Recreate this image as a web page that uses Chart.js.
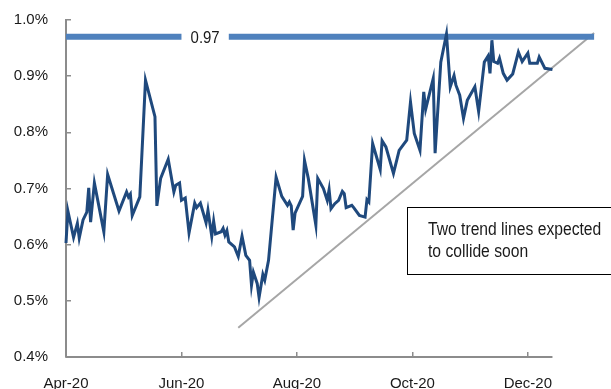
<!DOCTYPE html>
<html lang="en">
<head>
    <meta charset="UTF-8">
    <title>Yield with trend lines</title>
    <script src="https://cdn.jsdelivr.net/npm/chart.js"></script>
    <style>
        body {
            margin: 0;
            padding: 0;
            background: #ffffff;
        }
        .chart-box {
            width: 611px;
            height: 389px;
        }
    </style>
</head>
<body>
    <div class="chart-box">
        <canvas id="yieldChart"></canvas>
    </div>

    <script>
        // days counted from 1 Apr 2020, values in %
        const days = [0, 1, 4, 6, 7, 9, 11, 12, 13, 15, 20, 22, 28, 32, 33, 34, 35, 39, 42, 47,
            48, 50, 54, 57, 58, 60, 61, 63, 65, 68, 69, 71, 74, 75, 77, 78, 79, 82, 83, 84,
            85, 86, 89, 91, 93, 95, 97, 98, 99, 101, 102, 104, 105, 107, 111, 114, 117, 118, 119, 120,
            121, 125, 126, 128, 132, 133, 136, 138, 139, 140, 142, 144, 146, 147, 148, 151, 152, 155, 158, 159,
            160, 162, 166, 167, 169, 173, 176, 180, 182, 184, 187, 189, 190, 194, 195, 198, 201, 203, 205, 206,
            208, 210, 212, 216, 218, 221, 223, 224, 225, 226, 228, 229, 231, 233, 236, 239, 241, 244, 245, 249,
            250, 253, 257];
        const rates = [0.603, 0.660, 0.613, 0.638, 0.612, 0.644, 0.658, 0.701, 0.640, 0.710, 0.623, 0.725, 0.660, 0.694, 0.685, 0.690, 0.652, 0.685, 0.893, 0.828,
            0.669, 0.718, 0.752, 0.694, 0.706, 0.710, 0.679, 0.683, 0.621, 0.674, 0.666, 0.674, 0.639, 0.661, 0.615, 0.642, 0.619, 0.623, 0.629, 0.617,
            0.625, 0.605, 0.596, 0.579, 0.615, 0.581, 0.572, 0.528, 0.551, 0.531, 0.506, 0.547, 0.537, 0.572, 0.720, 0.686, 0.670, 0.676, 0.669, 0.626,
            0.656, 0.686, 0.750, 0.718, 0.635, 0.718, 0.700, 0.679, 0.698, 0.664, 0.673, 0.679, 0.695, 0.691, 0.666, 0.670, 0.666, 0.652, 0.649, 0.680,
            0.676, 0.780, 0.734, 0.785, 0.774, 0.727, 0.768, 0.786, 0.854, 0.798, 0.768, 0.872, 0.841, 0.896, 0.763, 0.925, 0.975, 0.881, 0.901, 0.884,
            0.866, 0.825, 0.857, 0.881, 0.837, 0.925, 0.936, 0.905, 0.964, 0.926, 0.923, 0.932, 0.905, 0.893, 0.904, 0.943, 0.926, 0.941, 0.923, 0.923,
            0.934, 0.914, 0.912];

        // resistance line at 0.97, broken where its label sits
        const resistLevel = 0.97;
        const resistDays = [0, 61, null, 86, 279];
        const resistLabelDay = 73.5;

        // rising support line
        const supportDays = [91, 279];
        const supportValues = [0.452, 0.977];

        const axisEndDay = 257;
        const xTickDays = [0, 61, 122, 183, 244];
        const xTickLabels = ['Apr-20', 'Jun-20', 'Aug-20', 'Oct-20', 'Dec-20'];
        const yTicks = [0.4, 0.5, 0.6, 0.7, 0.8, 0.9, 1.0];

        const noteLines = ['Two trend lines expected', 'to collide soon'];

        const fontFamily = "'Liberation Sans', Arial, sans-serif";
        const axisGray = '#8c8c8c';

        const mainPoints = days.map((d, i) => ({ x: d, y: rates[i] }));
        const resistPoints = resistDays.map(d => d === null ? { x: 73, y: null } : { x: d, y: resistLevel });
        const supportPoints = supportDays.map((d, i) => ({ x: d, y: supportValues[i] }));
        const axisPoints = [{ x: 0, y: yTicks[0] }, { x: axisEndDay, y: yTicks[0] }];

        // narrow text, like the squeezed original
        function squeezedText(ctx, text, x, y, sx) {
            ctx.save();
            ctx.translate(x, y);
            ctx.scale(sx, 1);
            ctx.fillText(text, 0, 0);
            ctx.restore();
        }

        const labelsPlugin = {
            id: 'labels',
            afterDatasetsDraw(chart) {
                const ctx = chart.ctx;
                const xs = chart.scales.x;
                const ys = chart.scales.y;
                ctx.save();
                ctx.fillStyle = '#1a1a1a';
                ctx.font = '17px ' + fontFamily;
                ctx.textAlign = 'center';
                ctx.textBaseline = 'middle';
                squeezedText(ctx, resistLevel.toFixed(2), xs.getPixelForValue(resistLabelDay), ys.getPixelForValue(resistLevel) + 1, 0.88);

                // note box
                ctx.fillStyle = '#ffffff';
                ctx.fillRect(407.5, 207.5, 210, 67);
                ctx.strokeStyle = '#000000';
                ctx.lineWidth = 1;
                ctx.strokeRect(407.5, 207.5, 210, 67);
                ctx.fillStyle = '#1a1a1a';
                ctx.font = '18px ' + fontFamily;
                ctx.textAlign = 'left';
                ctx.textBaseline = 'alphabetic';
                noteLines.forEach((t, i) => squeezedText(ctx, t, 428, 235 + i * 22, 0.87));
                ctx.restore();
            }
        };

        const ctx = document.getElementById('yieldChart').getContext('2d');
        new Chart(ctx, {
            type: 'line',
            data: {
                datasets: [
                    {
                        data: mainPoints,
                        borderColor: '#1f497d',
                        borderWidth: 3,
                        pointRadius: 0,
                        tension: 0,
                        clip: false
                    },
                    {
                        data: resistPoints,
                        borderColor: '#4f81bd',
                        borderWidth: 6,
                        pointRadius: 0,
                        spanGaps: false,
                        clip: false
                    },
                    {
                        data: supportPoints,
                        borderColor: '#a6a6a6',
                        borderWidth: 2,
                        pointRadius: 0,
                        clip: false
                    },
                    {
                        data: axisPoints,
                        borderColor: axisGray,
                        borderWidth: 2,
                        pointRadius: 0,
                        clip: false
                    }
                ]
            },
            options: {
                responsive: true,
                maintainAspectRatio: false,
                animation: false,
                layout: {
                    padding: { top: 20, right: 15, bottom: 0, left: 0 }
                },
                scales: {
                    x: {
                        type: 'linear',
                        min: 0,
                        max: 280,
                        afterBuildTicks: axis => {
                            axis.ticks = xTickDays.map(v => ({ value: v }));
                        },
                        afterFit: axis => {
                            axis.height = 32;
                            axis.paddingLeft = 0;
                            axis.paddingRight = 0;
                        },
                        border: { display: false },
                        grid: {
                            drawOnChartArea: false,
                            tickLength: -5,
                            color: axisGray,
                            lineWidth: 1.5
                        },
                        ticks: {
                            autoSkip: false,
                            maxRotation: 0,
                            padding: 23,
                            color: '#1a1a1a',
                            font: { family: fontFamily, size: 15 },
                            callback: value => xTickLabels[xTickDays.indexOf(value)]
                        }
                    },
                    y: {
                        min: 0.4,
                        max: 1.0,
                        afterBuildTicks: axis => {
                            axis.ticks = yTicks.map(v => ({ value: v }));
                        },
                        afterFit: axis => {
                            axis.width = 66;
                            axis.paddingTop = 0;
                            axis.paddingBottom = 0;
                        },
                        border: { display: true, color: axisGray, width: 2 },
                        grid: {
                            drawOnChartArea: false,
                            tickLength: -5,
                            color: axisGray,
                            lineWidth: 1.5
                        },
                        ticks: {
                            padding: 23,
                            color: '#1a1a1a',
                            font: { family: fontFamily, size: 15 },
                            callback: value => value.toFixed(1) + '%'
                        }
                    }
                },
                plugins: {
                    legend: { display: false },
                    tooltip: { enabled: false }
                }
            },
            plugins: [labelsPlugin]
        });
    </script>
</body>
</html>
